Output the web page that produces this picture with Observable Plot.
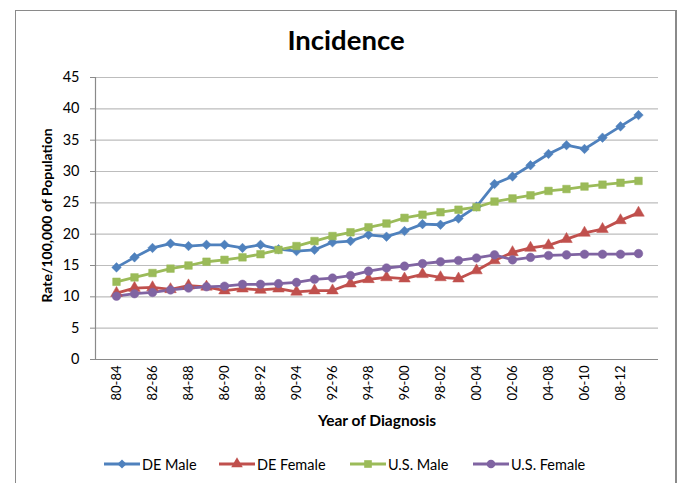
<!DOCTYPE html>
<html>
<head>
<meta charset="utf-8">
<script src="https://cdn.jsdelivr.net/npm/d3@7"></script>
<script src="https://cdn.jsdelivr.net/npm/@observablehq/plot@0.6"></script>
<style>
  html, body { margin: 0; padding: 0; background: #fff; }
  #wrap { position: relative; width: 681px; height: 483px; overflow: hidden; font-family: Lato, "Open Sans", sans-serif; }
  #border { position: absolute; left: 15px; top: 10px; width: 659px; height: 490px; border: 1px solid #8a8a8a; border-right-width: 2px; box-sizing: content-box; }
  #title { position: absolute; left: 0; width: 692px; top: 23px; text-align: center; font-weight: bold; font-size: 27.5px; color: #000; }
  #chart { position: absolute; left: 0; top: 0; }
  .leg { position: absolute; top: 455px; display: flex; align-items: center; font-size: 14.5px; color: #000; white-space: nowrap; }
  .leg svg { display: block; margin-right: 2px; }
</style>
</head>
<body>
<div id="wrap">
  <div id="border"></div>
  <div id="chart"></div>
  <div id="title">Incidence</div>
  <div id="legend"></div>
</div>
<script>
const categories = ["80-84","81-85","82-86","83-87","84-88","85-89","86-90","87-91","88-92","89-93",
  "90-94","91-95","92-96","93-97","94-98","95-99","96-00","97-01","98-02","99-03",
  "00-04","01-05","02-06","03-07","04-08","05-09","06-10","07-11","08-12","09-13"];
const tickLabels = ["80-84","82-86","84-88","86-90","88-92","90-94","92-96","94-98","96-00","98-02","00-04","02-06","04-08","06-10","08-12"];
const yTicks = [0,5,10,15,20,25,30,35,40,45];

const seriesNames = ["DE Male","DE Female","U.S. Male","U.S. Female"];
const deMale = [14.7,16.3,17.8,18.5,18.1,18.3,18.3,17.8,18.3,17.6,17.3,17.5,18.7,18.9,19.9,19.6,20.5,21.6,21.5,22.5,24.4,28.0,29.2,31.0,32.8,34.2,33.6,35.4,37.2,39.0];
const deFemale = [10.6,11.4,11.5,11.2,11.8,11.6,11.0,11.3,11.1,11.3,10.8,11.0,11.0,12.1,12.8,13.1,12.9,13.6,13.1,12.9,14.2,15.8,17.1,17.8,18.2,19.2,20.2,20.8,22.2,23.4];
const usMale = [12.4,13.1,13.8,14.5,15.0,15.6,15.9,16.3,16.8,17.5,18.1,18.9,19.7,20.3,21.1,21.7,22.6,23.1,23.5,23.9,24.3,25.2,25.7,26.2,26.9,27.2,27.6,27.9,28.2,28.5];
const usFemale = [10.1,10.5,10.7,11.1,11.4,11.6,11.7,12.0,12.0,12.1,12.3,12.8,13.0,13.4,14.1,14.6,14.9,15.3,15.6,15.8,16.2,16.7,15.9,16.3,16.6,16.7,16.8,16.8,16.8,16.9];

const colors = ["#4F81BD","#C0504D","#9BBB59","#8064A2"];
const symbols = ["diamond2","triangle","square","circle"];
const seriesValues = [deMale, deFemale, usMale, usFemale];

const data = [];
seriesNames.forEach((s, si) => {
  categories.forEach((c, i) => data.push({series: s, cat: c, value: seriesValues[si][i]}));
});

const plot = Plot.plot({
  width: 681,
  height: 483,
  marginTop: 77,
  marginBottom: 124,
  marginLeft: 95,
  marginRight: 23,
  style: {fontFamily: "Lato, 'Open Sans', sans-serif", background: "transparent", overflow: "visible"},
  x: {type: "point", domain: categories, padding: 0.5},
  y: {domain: [0, 45]},
  color: {domain: seriesNames, range: colors},
  symbol: {domain: seriesNames, range: symbols},
  marks: [
    Plot.gridY(yTicks, {stroke: "#bdbdbd", strokeOpacity: 1, strokeWidth: 1.2}),
    Plot.frame({anchor: "left", stroke: "#8a8a8a", strokeWidth: 1.2}),
    Plot.ruleY([0], {stroke: "#8a8a8a", strokeWidth: 1.2}),
    Plot.axisY({ticks: yTicks, tickSize: 5, tickPadding: 11, stroke: "#8a8a8a", fill: "#000", fontSize: 14.5, label: null}),
    Plot.axisX({ticks: tickLabels, tickSize: 0, tickPadding: 6, tickRotate: -90, fill: "#000", fontSize: 13, label: null}),
    Plot.text(["Rate/100,000 of Population"], {frameAnchor: "left", dx: -48, dy: -3, rotate: -90, textAnchor: "middle", fontWeight: "bold", fontSize: 14, fill: "#000"}),
    Plot.text(["Year of Diagnosis"], {frameAnchor: "bottom", dy: 66, fontWeight: "bold", fontSize: 15.5, fill: "#000"}),
    Plot.line(data, {x: "cat", y: "value", z: "series", stroke: "series", strokeWidth: 2.8}),
    Plot.dot(data, {x: "cat", y: "value", fill: "series", symbol: "series", stroke: "series", strokeWidth: 0.5, r: 4.3})
  ]
});
document.getElementById("chart").appendChild(plot);

// legend
const legendLeft = [104, 219, 350, 473];
const legend = document.getElementById("legend");
seriesNames.forEach((s, i) => {
  const item = document.createElement("div");
  item.className = "leg";
  item.style.left = legendLeft[i] + "px";
  const svg = d3.create("svg").attr("width", 36).attr("height", 18);
  svg.append("line").attr("x1", 0).attr("x2", 36).attr("y1", 9).attr("y2", 9)
    .attr("stroke", colors[i]).attr("stroke-width", 2.8);
  const symMap = {diamond2: d3.symbolSquare, triangle: d3.symbolTriangle, square: d3.symbolSquare, circle: d3.symbolCircle};
  svg.append("path")
    .attr("d", d3.symbol(symMap[symbols[i]], 4.3 * 4.3 * Math.PI)())
    .attr("fill", colors[i])
    .attr("transform", "translate(18,9)" + (symbols[i] === "diamond2" ? " rotate(45) scale(0.85)" : ""));
  item.appendChild(svg.node());
  const t = document.createElement("span");
  t.textContent = s;
  item.appendChild(t);
  legend.appendChild(item);
});
</script>
</body>
</html>
